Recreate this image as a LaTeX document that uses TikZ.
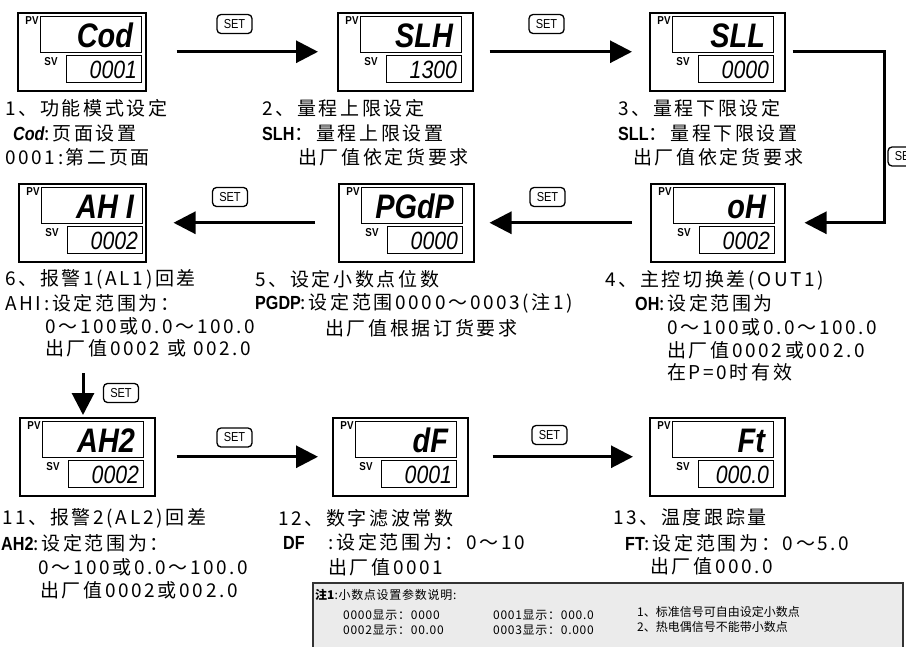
\documentclass[tikz,border=0pt]{standalone}
\usepackage{fontspec}
\usetikzlibrary{arrows.meta,calc}
\newfontfamily\cjk[LetterSpace=14]{Noto Sans CJK SC}
\newfontfamily\cjknote[LetterSpace=6]{Noto Sans CJK SC}
\newfontfamily\cjknoteb{Noto Sans CJK SC}
\newfontfamily\segf{Liberation Sans}
\newfontfamily\labf[FakeStretch=0.85]{Liberation Sans}
\newcommand\lab[1]{{\labf\bfseries #1}}
\tikzset{
 arr/.style={line width=3pt, -{Triangle[length=22pt,width=22pt]}},
 setb/.style={draw, line width=1.3pt, rounded corners=4pt, minimum width=35pt, minimum height=19pt, inner sep=0pt, font=\labf\fontsize{13}{13}\selectfont},
 tx/.style={anchor=west, inner sep=0pt, font=\cjk\fontsize{19}{19}\selectfont},
 nt/.style={anchor=west, inner sep=0pt, font=\cjknote\fontsize{12}{12}\selectfont},
 ntr/.style={anchor=west, inner sep=0pt, font=\cjknoteb\fontsize{12}{12}\selectfont},
 outerbox/.style={draw, line width=1.5pt, minimum height=78pt, inner sep=0pt, anchor=north west},
 pvbox/.style={draw, line width=1.2pt, minimum width=101pt, minimum height=36pt, inner sep=0pt, anchor=north west},
 svbox/.style={draw, line width=1.2pt, minimum width=75pt, minimum height=27pt, inner sep=0pt, anchor=north west},
 pvtxt/.style={anchor=east, inner sep=0pt, font=\labf\bfseries\itshape\fontsize{34}{34}\selectfont},
 svtxt/.style={anchor=east, inner sep=0pt, font=\labf\itshape\fontsize{25}{25}\selectfont},
 tag/.style={inner sep=0pt, font=\labf\bfseries\fontsize{11.5}{11.5}\selectfont},
}
% name, left, top, width, pv, sv
\newcommand\dsp[6]{%
 \node[outerbox, minimum width=#4pt] (#1) at (#2,#3) {};
 \node[pvbox] (#1pv) at ($(#1.north west)+(23,4)$) {};
 \node[svbox] (#1sv) at ($(#1.north west)+(49,43)$) {};
 \node[tag] (#1pvl) at ($(#1.north west)+(15,9)$) {PV};
 \node[tag] (#1svl) at ($(#1.north west)+(34,50)$) {SV};
 \node[pvtxt] (#1pvt) at ($(#1pv.east)+(-9,1)$) {#5};
 \node[svtxt] (#1svt) at ($(#1sv.east)+(-5,1)$) {#6};
}
\begin{document}
\begin{tikzpicture}[x=1pt,y=-1pt]
\useasboundingbox (0,0) rectangle (906,646);
% displays
\dsp{b1}{17}{12}{128}{Cod}{0001}
\dsp{b2}{337}{12}{135}{SLH}{1300}
\dsp{b3}{649}{12}{135}{SLL}{0000}
\dsp{b4}{650}{183}{134}{oH}{0002}
\dsp{b5}{338}{183}{135}{PGdP}{0000}
\dsp{b6}{18}{183}{127}{AH I}{0002}
\dsp{b11}{19}{417}{135}{AH2}{0002}
\dsp{b12}{332}{417}{135}{dF}{0001}
\dsp{b13}{649}{417}{135}{Ft}{000.0}
% SET buttons
\node[setb] (s1) at (234.5,24) {SET};
\node[setb] (s2) at (546.5,24) {SET};
\node[setb] (s3) at (905.5,156.5) {SET};
\node[setb] (s4) at (547.5,197) {SET};
\node[setb] (s5) at (230,197) {SET};
\node[setb] (s6) at (121,393) {SET};
\node[setb] (s7) at (234.5,437.5) {SET};
\node[setb] (s8) at (549.5,435) {SET};
% connectors
\draw[arr, shorten <=30pt, shorten >=19pt] (b1.east) -- (b1.east -| b2.west);
\draw[arr, shorten <=16pt, shorten >=17pt] (b2.east) -- (b2.east -| b3.west);
\coordinate (turn) at (884,50);
\draw[arr, shorten <=7pt, shorten >=19pt] (b3.east) -- (b3.east -| turn) |- (b4.east);
\draw[arr, shorten <=18pt, shorten >=15pt] (b4.west) -- (b4.west -| b5.east);
\draw[arr, shorten <=23pt, shorten >=27pt] (b5.west) -- (b5.west -| b6.east);
\coordinate (vs) at (83,373);
\draw[arr, shorten >=2pt] (vs) -- (vs |- b11.north);
\draw[arr, shorten <=21pt, shorten >=14pt] (b11.east) -- (b11.east -| b12.west);
\draw[arr, shorten <=24pt, shorten >=16pt] (b12.east) -- (b12.east -| b13.west);
% texts block 1
\node[tx] (t1a) at (5,108) {1、功能模式设定};
\node[tx] (t1b) at (13,133) {{\labf\bfseries\itshape Cod}:页面设置};
\node[tx] (t1c) at (5,157) {0001:第二页面};
% block 2
\node[tx] (t2a) at (262,108) {2、量程上限设定};
\node[tx] (t2b) at (262,133) {\lab{SLH}：量程上限设置};
\node[tx] (t2c) at (298,157) {出厂值依定货要求};
% block 3
\node[tx] (t3a) at (618,108) {3、量程下限设定};
\node[tx] (t3b) at (618,133) {\lab{SLL}：量程下限设置};
\node[tx] (t3c) at (633,157) {出厂值依定货要求};
% block 4
\node[tx] (t4a) at (605,280) {4、主控切换差(OUT1)};
\node[tx] (t4b) at (635,303) {\lab{OH}:设定范围为};
\node[tx] (t4c) at (667,327) {0～100或0.0～100.0};
\node[tx] (t4d) at (667,350) {出厂值0002或002.0};
\node[tx] (t4e) at (667,372) {在P=0时有效};
% block 5
\node[tx] (t5a) at (255,279) {5、设定小数点位数};
\node[tx] (t5b) at (255,303) {\lab{PGDP}:设定范围0000～0003(注1)};
\node[tx] (t5c) at (325,328) {出厂值根据订货要求};
% block 6
\node[tx] (t6a) at (5,279) {6、报警1(AL1)回差};
\node[tx] (t6b) at (5,303) {AHI:设定范围为：};
\node[tx] (t6c) at (45,326) {0～100或0.0～100.0};
\node[tx] (t6d) at (45,348) {出厂值0002 或 002.0};
% block 11
\node[tx] (t11a) at (2,518) {11、报警2(AL2)回差};
\node[tx] (t11b) at (1,543) {\lab{AH2}:设定范围为：};
\node[tx] (t11c) at (38,567) {0～100或0.0～100.0};
\node[tx] (t11d) at (40,590) {出厂值0002或002.0};
% block 12
\node[tx] (t12a) at (278,518) {12、数字滤波常数};
\node[tx] (t12b) at (283,542) {\lab{DF}\hspace{24pt}:设定范围为：0～10};
\node[tx] (t12c) at (328,567) {出厂值0001};
% block 13
\node[tx] (t13a) at (613,517) {13、温度跟踪量};
\node[tx] (t13b) at (625,543) {\lab{FT}:设定范围为：0～5.0};
\node[tx] (t13c) at (650,566) {出厂值000.0};
% note
\node[draw=black!80, line width=1.5pt, fill=black!8, minimum width=590pt, minimum height=80pt, anchor=north west, inner sep=0pt] (note) at (312,582) {};
\node[nt] (n1) at (315,595) {{\cjknoteb\bfseries 注1}:小数点设置参数说明:};
\node[nt] (n2) at (343,615) {0000显示：0000};
\node[nt] (n3) at (493,615) {0001显示：000.0};
\node[nt] (n4) at (343,630) {0002显示：00.00};
\node[nt] (n5) at (493,630) {0003显示：0.000};
\node[ntr] (n6) at (637,612) {1、标准信号可自由设定小数点};
\node[ntr] (n7) at (637,627) {2、热电偶信号不能带小数点};
\end{tikzpicture}
\end{document}
